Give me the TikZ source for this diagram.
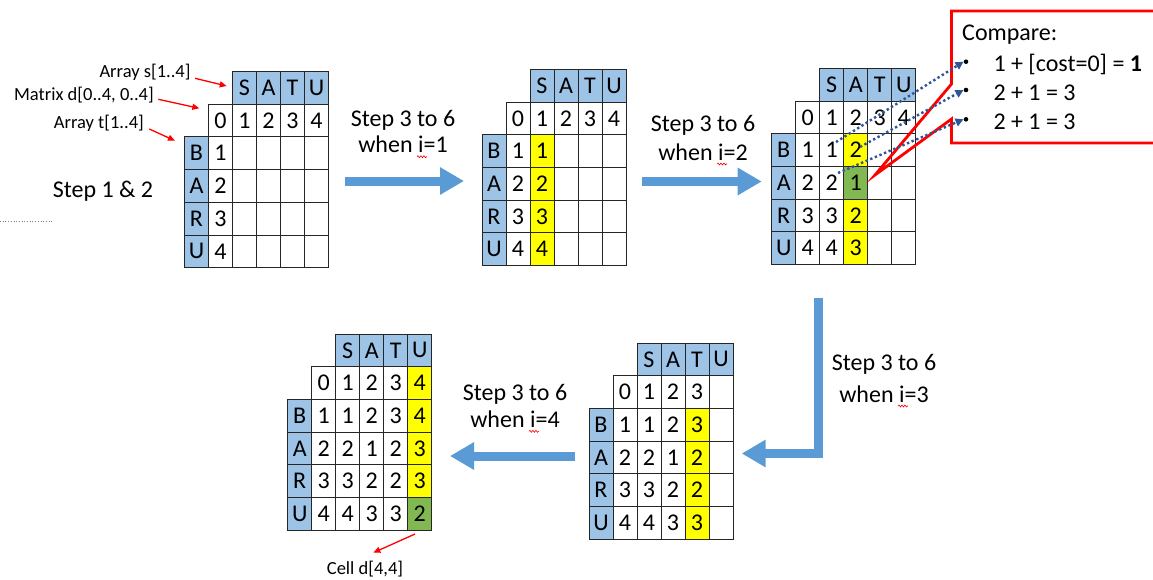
\documentclass[tikz,border=0pt]{standalone}
\usepackage{fontspec}
\setmainfont{Carlito}
\usetikzlibrary{arrows.meta,decorations.pathmorphing}
\definecolor{cb}{HTML}{9DC3E6}
\definecolor{cw}{HTML}{FFFFFF}
\definecolor{cy}{HTML}{FFFF00}
\definecolor{cg}{HTML}{82B852}
\definecolor{arrowblue}{HTML}{5B9BD5}
\definecolor{dotblue}{HTML}{2F5597}
\newcommand\gridrow[4]{%
  \foreach \f/\t [count=\i from #3] in {#4}{%
    \node[cell,fill=\f] (#1-#2-\i) at ({(\i+0.5)*24},{(#2+0.5)*32.7}) {\t};}}
\begin{document}
\begin{tikzpicture}[x=1pt,y=-1pt,
  cell/.style={draw=black!85,line width=1pt,minimum width=24pt,minimum height=32.7pt,inner sep=0pt,font=\fontsize{24}{24}\selectfont},
  steptext/.style={anchor=base,font=\fontsize{24}{28}\selectfont,inner sep=0pt},
  boxtext/.style={anchor=base west,font=\fontsize{24}{28}\selectfont,inner sep=0pt},
  bigarrow/.style={arrowblue,line width=9pt,line join=miter,-{Triangle[width=26pt,length=24pt]}},
  redarrow/.style={red,line width=1.3pt,-{Triangle[width=6pt,length=7pt]}},
  smalllabel/.style={font=\fontsize{18.5}{20}\selectfont,inner sep=0pt},
  dotarrow/.style={dotblue,line width=2.4pt,dash pattern=on 2.4pt off 2.6pt,-{Triangle[width=8pt,length=8pt]}},
  squiggle/.style={red,line width=0.6pt,decorate,decoration={snake,amplitude=1pt,segment length=3pt}},
  bullet/.style={circle,fill=black,inner sep=0pt,minimum size=4.6pt}
]
\useasboundingbox (0,0) rectangle (1153,579);
\fill[white] (0,0) rectangle (1153,579);

% ---------- grid 1
\begin{scope}[shift={(184.5,71.5)}]
\gridrow{g1}{0}{2}{cb/S,cb/A,cb/T,cb/U}
\gridrow{g1}{1}{1}{cw/0,cw/1,cw/2,cw/3,cw/4}
\gridrow{g1}{2}{0}{cb/B,cw/1,cw/{},cw/{},cw/{},cw/{}}
\gridrow{g1}{3}{0}{cb/A,cw/2,cw/{},cw/{},cw/{},cw/{}}
\gridrow{g1}{4}{0}{cb/R,cw/3,cw/{},cw/{},cw/{},cw/{}}
\gridrow{g1}{5}{0}{cb/U,cw/4,cw/{},cw/{},cw/{},cw/{}}
\end{scope}

% ---------- grid 2
\begin{scope}[shift={(482,69.3)}]
\gridrow{g2}{0}{2}{cb/S,cb/A,cb/T,cb/U}
\gridrow{g2}{1}{1}{cw/0,cw/1,cw/2,cw/3,cw/4}
\gridrow{g2}{2}{0}{cb/B,cw/1,cy/1,cw/{},cw/{},cw/{}}
\gridrow{g2}{3}{0}{cb/A,cw/2,cy/2,cw/{},cw/{},cw/{}}
\gridrow{g2}{4}{0}{cb/R,cw/3,cy/3,cw/{},cw/{},cw/{}}
\gridrow{g2}{5}{0}{cb/U,cw/4,cy/4,cw/{},cw/{},cw/{}}
\end{scope}

% ---------- grid 3
\begin{scope}[shift={(771.7,68.3)}]
\gridrow{g3}{0}{2}{cb/S,cb/A,cb/T,cb/U}
\gridrow{g3}{1}{1}{cw/0,cw/1,cw/2,cw/3,cw/4}
\gridrow{g3}{2}{0}{cb/B,cw/1,cw/1,cy/2,cw/{},cw/{}}
\gridrow{g3}{3}{0}{cb/A,cw/2,cw/2,cg/1,cw/{},cw/{}}
\gridrow{g3}{4}{0}{cb/R,cw/3,cw/3,cy/2,cw/{},cw/{}}
\gridrow{g3}{5}{0}{cb/U,cw/4,cw/4,cy/3,cw/{},cw/{}}
\end{scope}

% ---------- grid 5 (bottom right)
\begin{scope}[shift={(589,343)}]
\gridrow{g5}{0}{2}{cb/S,cb/A,cb/T,cb/U}
\gridrow{g5}{1}{1}{cw/0,cw/1,cw/2,cw/3,cw/{}}
\gridrow{g5}{2}{0}{cb/B,cw/1,cw/1,cw/2,cy/3,cw/{}}
\gridrow{g5}{3}{0}{cb/A,cw/2,cw/2,cw/1,cy/2,cw/{}}
\gridrow{g5}{4}{0}{cb/R,cw/3,cw/3,cw/2,cy/2,cw/{}}
\gridrow{g5}{5}{0}{cb/U,cw/4,cw/4,cw/3,cy/3,cw/{}}
\end{scope}

% ---------- grid 4 (bottom left)
\begin{scope}[shift={(287.7,334)}]
\gridrow{g4}{0}{2}{cb/S,cb/A,cb/T,cb/U}
\gridrow{g4}{1}{1}{cw/0,cw/1,cw/2,cw/3,cy/4}
\gridrow{g4}{2}{0}{cb/B,cw/1,cw/1,cw/2,cw/3,cy/4}
\gridrow{g4}{3}{0}{cb/A,cw/2,cw/2,cw/1,cw/2,cy/3}
\gridrow{g4}{4}{0}{cb/R,cw/3,cw/3,cw/2,cw/2,cy/3}
\gridrow{g4}{5}{0}{cb/U,cw/4,cw/4,cw/3,cw/3,cg/2}
\end{scope}

% ---------- labels of grid 1
\node[smalllabel,anchor=east] (ls) at (190.7,72) {Array s[1..4]};
\node[smalllabel,anchor=east] (lm) at (154,95) {Matrix d[0..4, 0..4]};
\node[smalllabel,anchor=east] (lt) at (144,123.5) {Array t[1..4]};
\coordinate (ls1) at (195,78.3);   \coordinate (ls2) at (226.7,86);
\coordinate (lm1) at (158.3,99.3); \coordinate (lm2) at (199.3,108.3);
\coordinate (lt1) at (149.3,129);  \coordinate (lt2) at (175,140.7);
\draw[redarrow] (ls1) -- (ls2);
\draw[redarrow] (lm1) -- (lm2);
\draw[redarrow] (lt1) -- (lt2);

\node[steptext] (s12) at (103,197.7) {Step 1 \& 2};
\coordinate (dl1) at (0,221.7); \coordinate (dl2) at (52.7,221.7);
\draw[gray,line width=0.7pt,dotted] (dl1) -- (dl2);

% ---------- big arrows
\coordinate (a1s) at (345,181);   \coordinate (a1e) at (464,181);
\coordinate (a2s) at (642,181.5); \coordinate (a2e) at (761.7,181.5);
\coordinate (a3s) at (818.5,298); \coordinate (a3e) at (741.7,453.5);
\coordinate (a4s) at (575,456);   \coordinate (a4e) at (450,456);
\draw[bigarrow] (a1s) -- (a1e);
\draw[bigarrow] (a2s) -- (a2e);
\draw[bigarrow] (a3s) |- (a3e);
\draw[bigarrow] (a4s) -- (a4e);

% ---------- step texts
\node[steptext] (t1a) at (403,126.7) {Step 3 to 6};
\node[steptext] (t1b) at (403,152.7) {when i=1};
\draw[squiggle] (417,156.7) -- (427,156.7);
\node[steptext] (t2a) at (703,131.7) {Step 3 to 6};
\node[steptext] (t2b) at (703,160) {when i=2};
\draw[squiggle] (717,164) -- (727,164);
\node[steptext] (t3a) at (884,370) {Step 3 to 6};
\node[steptext] (t3b) at (884,402) {when i=3};
\draw[squiggle] (898,406) -- (908,406);
\node[steptext] (t4a) at (515,400) {Step 3 to 6};
\node[steptext] (t4b) at (515,427.3) {when i=4};
\draw[squiggle] (529,431.3) -- (539,431.3);

% ---------- callout
\fill[white] (951.5,11) rectangle (1170,143);
\draw[red,line width=2.8pt,line join=miter]
  (951.5,11) -- (1170,11) -- (1170,143) -- (951.5,143) -- (951.5,119)
  -- (875,175) -- (951.5,84) -- cycle;
\node[boxtext] (cmp) at (962,40.5) {Compare:};
\node[bullet] (b1) at (966,61.7) {};
\node[bullet] (b2) at (966,90) {};
\node[bullet] (b3) at (966,119.3) {};
\node[boxtext] (e1) at (993.3,71.7) {1 + [cost=0] = \textbf{1}};
\node[boxtext] (e2) at (993.3,100) {2 + 1 = 3};
\node[boxtext] (e3) at (993.3,129.3) {2 + 1 = 3};
\coordinate (d1) at (836,142);
\coordinate (d2) at (860,147);
\coordinate (d3) at (838,173);
\draw[dotarrow] (d1) -- (b1.west);
\draw[dotarrow] (d2) -- (b2.west);
\draw[dotarrow] (d3) -- (b3.west);

% ---------- cell label
\node[smalllabel,anchor=base] (lc) at (365,574) {Cell d[4,4]};
\coordinate (lc1) at (415,534); \coordinate (lc2) at (373.3,552.7);
\draw[redarrow] (lc1) -- (lc2);
\end{tikzpicture}
\end{document}
